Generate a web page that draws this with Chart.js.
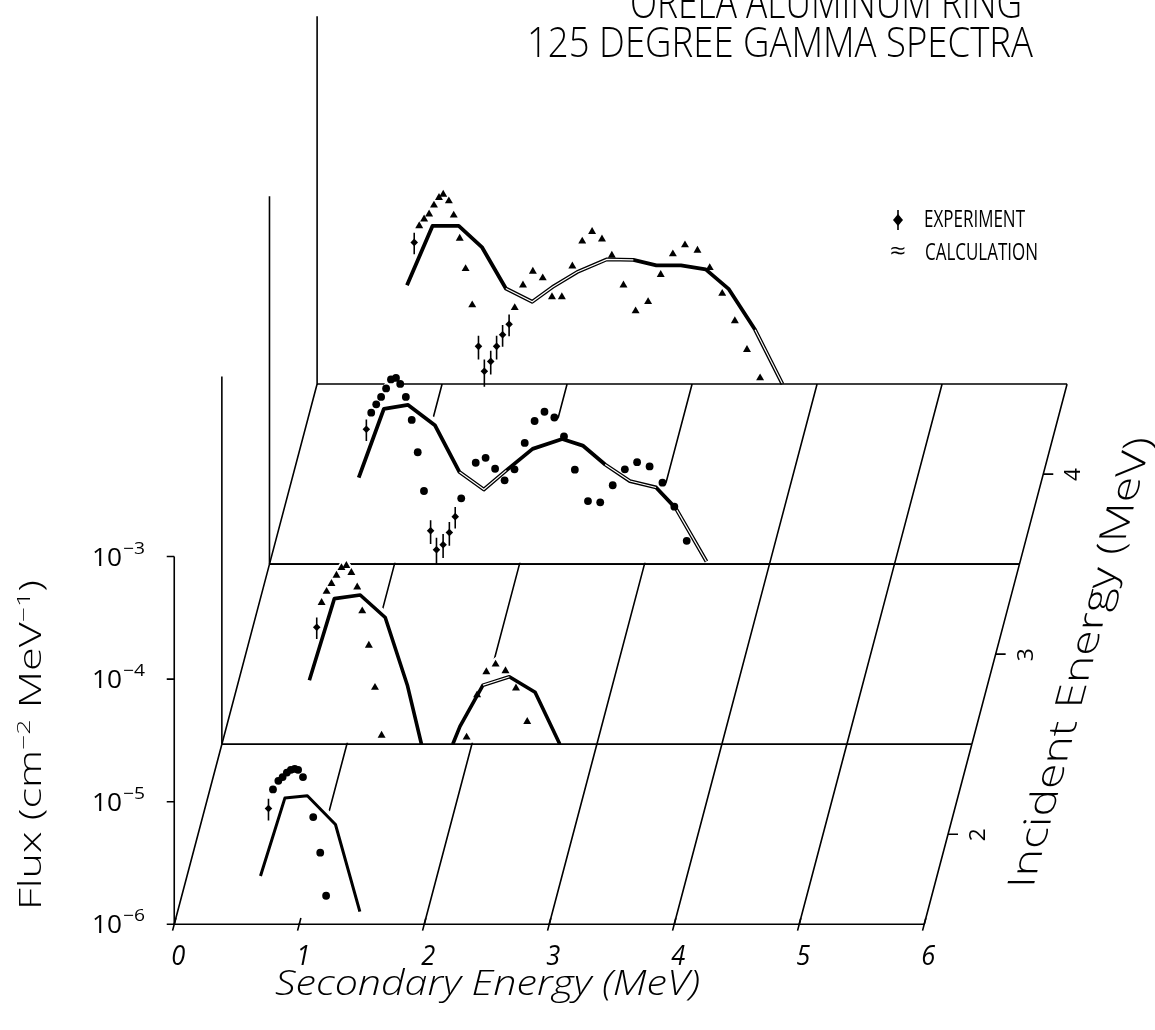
<!DOCTYPE html>
<html>
<head>
<meta charset="utf-8">
<title>ORELA Aluminum Ring - 125 degree gamma spectra</title>
<script src="https://cdn.jsdelivr.net/npm/chart.js@4.4.1/dist/chart.umd.min.js"></script>
<style>
  html, body { margin: 0; padding: 0; background: #fff; }
  #wrap { width: 1155px; height: 1030px; position: relative; }
</style>
</head>
<body>
<div id="wrap"><canvas id="spectra"></canvas></div>
<script>
// incident energy of each spectrum (MeV), front to back
const incident = [1.5, 2.5, 3.5, 4.5];
const incidentTicks = [2, 3, 4];
const secondaryTicks = [0, 1, 2, 3, 4, 5, 6];
const fluxTicks = [1e-6, 1e-5, 1e-4, 1e-3];
const fluxExp = ["-6", "-5", "-4", "-3"];

// calculated spectra (secondary energy MeV, flux cm-2 MeV-1)
const calc0E = [0.69, 0.885, 1.065, 1.29, 1.485];
const calc0F = [2.48e-6, 1.07e-5, 1.12e-5, 6.52e-6, 1.27e-6];
const calc1E = [0.70, 0.90, 1.107, 1.307, 1.484, 1.597, null, 1.847, 1.905, 2.089, 2.30, 2.506, 2.704];
const calc1F = [3.33e-6, 1.54e-5, 1.65e-5, 1.08e-5, 3.03e-6, 1.0e-6, null, 1.0e-6, 1.40e-6, 3.03e-6, 3.55e-6, 2.65e-6, 1.0e-6];
const calc2E = [0.714, 0.915, 1.109, 1.323, 1.52, 1.715, 1.895, 2.105, 2.342, 2.506, 2.685, 2.883, 3.093, 3.251, 3.496];
const calc2F = [5.08e-6, 1.85e-5, 1.99e-5, 1.36e-5, 5.64e-6, 4.06e-6, 5.82e-6, 8.71e-6, 1.05e-5, 9.27e-6, 6.5e-6, 4.76e-6, 4.22e-6, 2.85e-6, 1.05e-6];
const calc3E = [0.719, 0.923, 1.133, 1.318, 1.51, 1.721, 1.884, 2.081, 2.319, 2.53, 2.714, 2.911, 3.109, 3.294, 3.504, 3.723];
const calc3F = [6.4e-6, 1.95e-5, 1.95e-5, 1.31e-5, 6.01e-6, 4.69e-6, 6.19e-6, 8.2e-6, 1.04e-5, 1.03e-5, 9.29e-6, 9.29e-6, 8.61e-6, 5.94e-6, 2.77e-6, 1.0e-6];

// measured spectra; err is the relative uncertainty shown as a bar (0 = none drawn)
const exp0E = [0.754, 0.79, 0.833, 0.867, 0.901, 0.933, 0.964, 0.991, 1.03, 1.112, 1.168, 1.215];
const exp0F = [8.8e-6, 1.26e-5, 1.48e-5, 1.59e-5, 1.73e-5, 1.82e-5, 1.85e-5, 1.82e-5, 1.59e-5, 7.5e-6, 3.84e-6, 1.71e-6];
const exp0Err = [0.2, 0, 0, 0, 0, 0, 0, 0, 0, 0, 0, 0];
const exp1E = [0.759, 0.798, 0.838, 0.877, 0.917, 0.957, 0.996, 1.036, 1.083, 1.123, 1.176, 1.225, 1.278,
  1.958, 2.042, 2.116, 2.19, 2.269, 2.353, 2.443];
const exp1F = [9.0e-6, 1.43e-5, 1.76e-5, 2.04e-5, 2.38e-5, 2.75e-5, 2.86e-5, 2.51e-5, 1.91e-5, 1.22e-5, 6.4e-6, 2.9e-6, 1.18e-6,
  1.14e-6, 2.52e-6, 3.89e-6, 4.49e-6, 3.96e-6, 2.87e-6, 1.53e-6];
const exp1Err = [0.2, 0, 0, 0, 0, 0, 0, 0, 0, 0, 0, 0, 0, 0, 0, 0, 0, 0, 0, 0];
const exp2E = [0.775, 0.814, 0.854, 0.893, 0.933, 0.972, 1.012, 1.046, 1.091, 1.138, 1.186, 1.236, 1.289, 1.336,
  1.389, 1.439, 1.486, 1.534, 1.65, 1.729, 1.805, 1.881, 1.96, 2.042, 2.121, 2.2, 2.279, 2.356, 2.443, 2.548,
  2.646, 2.746, 2.843, 2.941, 3.041, 3.144, 3.239, 3.338];
const exp2F = [1.26e-5, 1.72e-5, 2.01e-5, 2.31e-5, 2.71e-5, 3.21e-5, 3.30e-5, 2.95e-5, 2.31e-5, 1.50e-5, 8.18e-6,
  3.95e-6, 1.87e-6, 1.31e-6, 1.44e-6, 1.81e-6, 2.44e-6, 3.44e-6, 6.71e-6, 7.36e-6, 6.0e-6, 4.83e-6, 5.93e-6,
  9.75e-6, 1.47e-5, 1.75e-5, 1.57e-5, 1.10e-5, 5.89e-6, 3.27e-6, 3.19e-6, 4.40e-6, 5.93e-6, 6.79e-6, 6.27e-6,
  4.62e-6, 2.94e-6, 1.55e-6];
const exp2Err = [0.2, 0, 0, 0, 0, 0, 0, 0, 0, 0, 0, 0, 0.22, 0.25, 0.22, 0.22, 0.2, 0,
  0, 0, 0, 0, 0, 0, 0, 0, 0, 0, 0, 0, 0, 0, 0, 0, 0, 0, 0, 0];
const exp3E = [0.777, 0.817, 0.856, 0.896, 0.935, 0.975, 1.009, 1.054, 1.093, 1.141, 1.188, 1.241, 1.291, 1.338,
  1.389, 1.436, 1.484, 1.536, 1.581, 1.647, 1.726, 1.805, 1.879, 1.958, 2.042, 2.121, 2.2, 2.279, 2.358, 2.451,
  2.548, 2.648, 2.749, 2.846, 2.943, 3.043, 3.141, 3.241, 3.342, 3.439, 3.544];
const exp3F = [1.43e-5, 1.95e-5, 2.21e-5, 2.43e-5, 2.87e-5, 3.31e-5, 3.52e-5, 3.11e-5, 2.38e-5, 1.54e-5, 8.71e-6,
  4.41e-6, 2.03e-6, 1.27e-6, 1.53e-6, 2.03e-6, 2.52e-6, 3.07e-6, 4.19e-6, 6.40e-6, 8.30e-6, 7.33e-6, 5.14e-6,
  5.14e-6, 9.16e-6, 1.46e-5, 1.75e-5, 1.52e-5, 1.12e-5, 6.40e-6, 3.94e-6, 4.69e-6, 7.80e-6, 1.15e-5, 1.36e-5,
  1.23e-5, 8.87e-6, 5.47e-6, 3.27e-6, 1.91e-6, 1.12e-6];
const exp3Err = [0.2, 0, 0, 0, 0, 0, 0, 0, 0, 0, 0, 0, 0.22, 0.25, 0.22, 0.22, 0.2, 0.2,
  0, 0, 0, 0, 0, 0, 0, 0, 0, 0, 0, 0, 0, 0, 0, 0, 0, 0, 0, 0, 0, 0, 0];

// segments of the calculation curve where the two plotted traces separate
const doubled = [[], [9], [4, 5, 10, 11, 13], [4, 5, 6, 7, 8, 14]];

const FONT = '"Open Sans", "DejaVu Sans", sans-serif';
const SHIFT_E = 0.381;  // secondary-energy offset per MeV of incident energy
const SHIFT_D = 1.469;  // decades of flux offset per MeV of incident energy
const FLOOR = fluxTicks[0];
const GAP = { x: null, y: null };

// oblique projection of (secondary energy, flux, incident energy) onto the page
function proj(e, f, ei) {
  if (e === null || f === null) return GAP;
  const d = ei - incident[0];
  return { x: e + SHIFT_E * d, y: Math.log10(f) + SHIFT_D * d };
}

const panels = [
  { calcE: calc0E, calcF: calc0F, expE: exp0E, expF: exp0F, err: exp0Err, marker: 'circle', r: 3.9, lw: 3 },
  { calcE: calc1E, calcF: calc1F, expE: exp1E, expF: exp1F, err: exp1Err, marker: 'triangle', r: 4.6, lw: 3.6 },
  { calcE: calc2E, calcF: calc2F, expE: exp2E, expF: exp2F, err: exp2Err, marker: 'circle', r: 3.9, lw: 3.8 },
  { calcE: calc3E, calcF: calc3F, expE: exp3E, expF: exp3F, err: exp3Err, marker: 'triangle', r: 4.6, lw: 3.8 }
];

// log-flux at x along a polyline, -Infinity where not defined
function interp(E, L, x, maxGap) {
  for (let i = 0; i < E.length; i++) if (E[i] === x) return L[i];
  for (let i = 0; i < E.length - 1; i++) {
    if (E[i] === null || E[i + 1] === null) continue;
    if (x > E[i] && x < E[i + 1]) {
      if (E[i + 1] - E[i] > maxGap) return -Infinity;
      const t = (x - E[i]) / (E[i + 1] - E[i]);
      return L[i] + t * (L[i + 1] - L[i]);
    }
  }
  return -Infinity;
}

// white curtain under each spectrum, hides whatever lies behind it
function curtain(p, ei) {
  const lc = p.calcF.map(f => (f === null ? null : Math.log10(f)));
  const le = p.expF.map(f => Math.log10(f));
  const xs = p.calcE.filter(e => e !== null).concat(p.expE).sort((a, b) => a - b);
  return xs.map(x => {
    const v = Math.max(interp(p.calcE, lc, x, 1), interp(p.expE, le, x, 0.2));
    if (v === -Infinity) return GAP;
    return proj(x, Math.pow(10, Math.max(v, -6) + 0.06), ei);
  });
}

function floorLines(k) {
  const a = incident[k], b = incident[k + 1];
  const lo = secondaryTicks[0], hi = secondaryTicks[secondaryTicks.length - 1];
  const pts = [proj(lo, FLOOR, a), proj(hi, FLOOR, a), GAP, proj(lo, FLOOR, b), proj(hi, FLOOR, b), GAP];
  secondaryTicks.forEach(e => pts.push(proj(e, FLOOR, a), proj(e, FLOOR, b), GAP));
  return pts;
}

function lineSet(data, order, width, color) {
  return { data, order, borderColor: color || '#000', borderWidth: width, pointRadius: 0, fill: false, tension: 0 };
}

const datasets = [];

// axis ticks on the front panel and along the incident-energy edge
const tickPts = [];
fluxTicks.forEach(f => tickPts.push(proj(-0.06, f, incident[0]), proj(0, f, incident[0]), GAP));
secondaryTicks.forEach(e => tickPts.push(proj(e, FLOOR, incident[0] - 0.035), proj(e, FLOOR, incident[0] + 0.035), GAP));
incidentTicks.forEach(ei => tickPts.push(proj(6, FLOOR, ei), proj(6.08, FLOOR, ei), GAP));
datasets.push(lineSet(tickPts, 0, 1.6));

panels.forEach((p, k) => {
  const ei = incident[k];
  const base = 10 * k + 1;
  if (k < 3) datasets.push(lineSet(floorLines(k), base + 8, 1.6));
  datasets.push(lineSet([proj(0, fluxTicks[0], ei), proj(0, fluxTicks[3], ei)], base + 7, 1.6));

  // curtain stops just above the baseline so the edge line stays whole
  datasets.push({
    data: curtain(p, ei), order: base + 4, borderWidth: 0, borderColor: 'rgba(0,0,0,0)',
    backgroundColor: '#fff', fill: { value: -6 + SHIFT_D * (ei - incident[0]) + 0.012 }, pointRadius: 0
  });

  const calc = p.calcE.map((e, i) => proj(e, p.calcF[i], ei));
  const black = lineSet(calc, base + 3, p.lw);
  black.borderJoinStyle = 'round';
  datasets.push(black);
  if (doubled[k].length) {
    const core = lineSet(calc, base + 2, 1.2);
    core.segment = { borderColor: c => (doubled[k].includes(c.p0DataIndex) ? '#fff' : 'rgba(0,0,0,0)') };
    datasets.push(core);
  }

  const bars = [];
  p.expE.forEach((e, i) => {
    if (p.err[i] > 0) bars.push(proj(e, p.expF[i] * (1 - p.err[i]), ei), proj(e, p.expF[i] * (1 + p.err[i]), ei), GAP);
  });
  if (bars.length) datasets.push(lineSet(bars, base + 1, 1.6));

  datasets.push({
    data: p.expE.map((e, i) => proj(e, p.expF[i], ei)),
    order: base, showLine: false, borderWidth: 0, backgroundColor: '#000', borderColor: '#000',
    pointStyle: p.err.map(v => (v > 0 ? 'rectRot' : p.marker)),
    pointRadius: p.err.map(v => (v > 0 ? 3.8 : p.r))
  });
});

// text drawn with a fixed cap height and stretched to a given width
function fitText(ctx, text, x, y, w, cap, italic, weight) {
  ctx.font = (italic ? 'italic ' : '') + (weight || 300) + ' ' + (cap / 0.72) + 'px ' + FONT;
  const nat = ctx.measureText(text).width;
  ctx.save();
  ctx.translate(x, y);
  ctx.scale(w / nat, 1);
  ctx.fillText(text, 0, 0);
  ctx.restore();
}

// text made of normal and superscript pieces, total width w
function supText(ctx, parts, x, y, w, cap) {
  const size = cap / 0.72;
  const widths = parts.map(p => {
    ctx.font = '300 ' + (p.sup ? size * 0.62 : size) + 'px ' + FONT;
    return ctx.measureText(p.t).width;
  });
  const sx = w / widths.reduce((a, b) => a + b, 0);
  ctx.save();
  ctx.translate(x, y);
  ctx.scale(sx, 1);
  let cx = 0;
  parts.forEach((p, i) => {
    ctx.font = '300 ' + (p.sup ? size * 0.62 : size) + 'px ' + FONT;
    ctx.fillText(p.t, cx, p.sup ? -cap * 0.5 : 0);
    cx += widths[i];
  });
  ctx.restore();
}

const plotterText = {
  id: 'plotterText',
  afterDatasetsDraw(chart) {
    const ctx = chart.ctx;
    const sx = chart.scales.x, sy = chart.scales.y;
    const pix = p => [sx.getPixelForValue(p.x), sy.getPixelForValue(p.y)];
    ctx.save();
    ctx.fillStyle = '#000';
    ctx.strokeStyle = '#000';
    ctx.textBaseline = 'alphabetic';

    fitText(ctx, 'ORELA ALUMINUM RING', 630, 18, 392, 32);
    fitText(ctx, '125 DEGREE GAMMA SPECTRA', 527, 57, 506, 31);

    // flux axis labels
    fluxTicks.forEach((f, i) => {
      const [, y] = pix(proj(0, f, incident[0]));
      fitText(ctx, '10', 92, y + 9, 30, 18, false, 400);
      fitText(ctx, '\u2212' + fluxExp[i].slice(1), 123, y - 3, 22, 12, false, 400);
    });

    // secondary energy labels
    secondaryTicks.forEach(e => {
      const [x] = pix(proj(e, FLOOR, incident[0]));
      fitText(ctx, String(e), x - 3, 965, 14, 20, true, 400);
    });
    fitText(ctx, 'Secondary Energy (MeV)', 275, 995, 425, 25, true);

    // flux axis title, rotated
    ctx.save();
    ctx.translate(41, 910);
    ctx.rotate(-Math.PI / 2);
    supText(ctx, [{ t: 'Flux (cm' }, { t: '\u22122', sup: true }, { t: ' MeV' }, { t: '\u22121', sup: true }, { t: ')' }], 0, 0, 330, 22);
    ctx.restore();

    // incident energy labels, rotated
    incidentTicks.forEach(ei => {
      const [x, y] = pix(proj(6, FLOOR, ei));
      ctx.save();
      ctx.translate(x + 37, y + 7);
      ctx.rotate(-Math.PI / 2);
      fitText(ctx, String(ei), 0, 0, 13, 16, false, 400);
      ctx.restore();
    });

    // incident energy title, following the slanted edge
    const ux = SHIFT_E * (sx.getPixelForValue(1) - sx.getPixelForValue(0));
    const uy = SHIFT_D * (sy.getPixelForValue(1) - sy.getPixelForValue(0));
    const len = Math.hypot(ux, uy);
    ctx.save();
    ctx.setTransform(ux / len, uy / len, 1, 0, 1033, 888);
    fitText(ctx, 'Incident Energy (MeV)', 0, 0, 466, 27);
    ctx.restore();

    // key
    ctx.lineWidth = 1.6;
    ctx.beginPath();
    ctx.moveTo(898, 210);
    ctx.lineTo(898, 230);
    ctx.stroke();
    ctx.beginPath();
    ctx.moveTo(898, 214); ctx.lineTo(903, 220); ctx.lineTo(898, 226); ctx.lineTo(893, 220);
    ctx.closePath();
    ctx.fill();
    fitText(ctx, 'EXPERIMENT', 924, 227, 101, 17, false, 400);
    fitText(ctx, '\u2248', 890, 259, 16, 17, false, 400);
    fitText(ctx, 'CALCULATION', 925, 260, 113, 17, false, 400);
    ctx.restore();
  }
};

new Chart(document.getElementById('spectra'), {
  type: 'line',
  data: { datasets },
  options: {
    responsive: true,
    maintainAspectRatio: false,
    animation: false,
    events: [],
    layout: { padding: 0 },
    plugins: { legend: { display: false }, tooltip: { enabled: false }, title: { display: false } },
    scales: {
      x: { type: 'linear', display: false, min: -171 / 126, max: (1155 - 171) / 126 },
      y: { type: 'linear', display: false, min: -6 - 102 / 123.7, max: -6 + 928 / 123.7 }
    }
  },
  plugins: [plotterText]
});
</script>
</body>
</html>
